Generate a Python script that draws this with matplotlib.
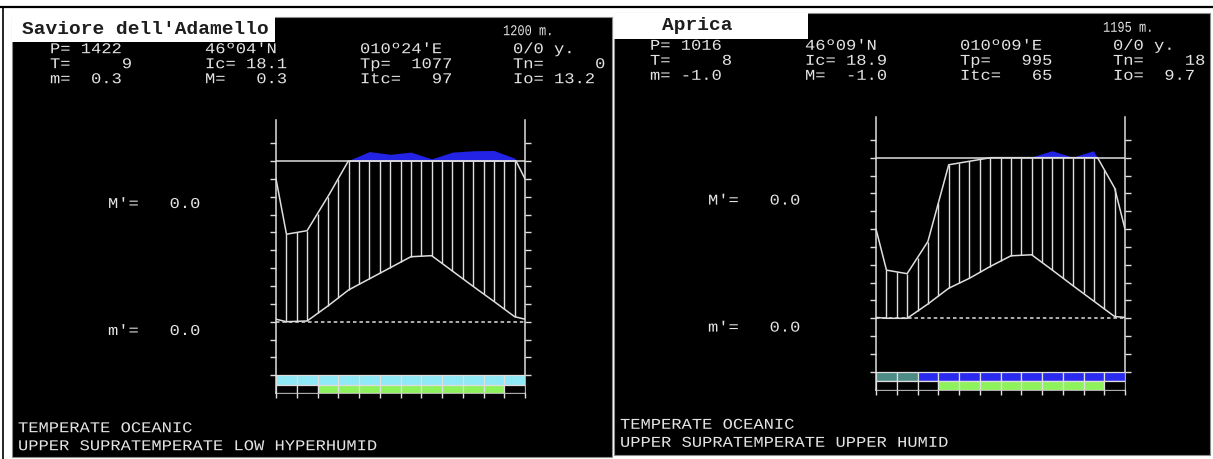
import numpy as np
import matplotlib
matplotlib.use("Agg")
import matplotlib.pyplot as plt
from matplotlib.patches import Rectangle
from matplotlib.patheffects import AbstractPathEffect
from matplotlib.transforms import Affine2D

W, H = 1213, 459

# ---- Saviore dell'Adamello -------------------------------------------------
sav_title = "Saviore dell'Adamello"
sav_elev = "1200 m."
sav_header = [["P= 1422", "46º04'N", "010º24'E", "0/0 y."],
              ["T=     9", "Ic= 18.1", "Tp=  1077", "Tn=     0"],
              ["m=  0.3", "M=   0.3", "Itc=   97", "Io= 13.2"]]
sav_temp = [0.0, 0.2, 4.4, 8.9, 12.0, 15.1, 18.2, 18.5, 14.2, 9.9, 5.7, 1.4]
sav_prec = [49, 51, 70, 95, 159, 139, 155, 106, 155, 165, 167, 111]
sav_row1 = ["cyan"] * 12
sav_row2 = ["off", "off", "on", "on", "on", "on", "on", "on", "on", "on", "on", "off"]
sav_labels = ["M'=   0.0", "m'=   0.0"]
sav_class = ["TEMPERATE OCEANIC", "UPPER SUPRATEMPERATE LOW HYPERHUMID"]

# ---- Aprica ----------------------------------------------------------------
apr_title = "Aprica"
apr_elev = "1195 m."
apr_header = [["P= 1016", "46º09'N", "010º09'E", "0/0 y."],
              ["T=     8", "Ic= 18.9", "Tp=   995", "Tn=    18"],
              ["m= -1.0", "M=  -1.0", "Itc=   65", "Io=  9.7"]]
apr_temp = [0.0, 0.0, 4.0, 8.4, 11.2, 14.5, 17.5, 17.8, 13.5, 9.1, 4.8, 0.5]
apr_prec = [27, 25, 43, 86, 88, 90, 90, 90, 137, 90, 137, 73]
apr_row1 = ["teal", "teal", "blue", "blue", "blue", "blue",
            "blue", "blue", "blue", "blue", "blue", "blue"]
apr_row2 = ["off", "off", "off", "on", "on", "on", "on", "on", "on", "on", "on", "off"]
apr_labels = ["M'=   0.0", "m'=   0.0"]
apr_class = ["TEMPERATE OCEANIC", "UPPER SUPRATEMPERATE UPPER HUMID"]

# ---- styling ---------------------------------------------------------------
LC = "#dedede"          # line colour
TC = "#e4e4e4"          # text colour
MONO = "Liberation Mono"
CAP = 45.0              # precipitation ceiling (P = 2T scale)
EXCESS = 13.0           # reduction applied above the ceiling
PPU = 3.57              # pixels per degree
YMIN, YMAX = -20.0, 56.5
row1_colors = {"cyan": "#8ee8f6", "teal": "#4d8b86", "blue": "#2b2bef"}
row2_colors = {"on": "#8ef25c", "off": "black"}
FILL = "#2323e6"


class Stretch(AbstractPathEffect):
    """Draw text glyphs scaled horizontally about the text origin."""

    def __init__(self, sx=1.0, sy=1.0):
        super().__init__()
        self.sx, self.sy = sx, sy

    def draw_path(self, renderer, gc, tpath, affine, rgbFace=None):
        renderer.draw_path(gc, tpath, Affine2D().scale(self.sx, self.sy) + affine,
                           rgbFace)


WIDE = [Stretch(1.14)]
NARROW = [Stretch(0.80)]
FS = 10.8


def scaled_prec(p):
    half = np.asarray(p, dtype=float) / 2.0
    return np.where(half > CAP, CAP + (half - CAP) / EXCESS, half)


fig = plt.figure(figsize=(W / 100, H / 100), dpi=100)
fig.patch.set_facecolor("white")
bg = fig.add_axes([0, 0, 1, 1])
bg.set_xlim(0, W)
bg.set_ylim(H, 0)
bg.axis("off")

# outer frame lines
bg.plot([0, W], [7, 7], color="black", lw=1.6)
bg.plot([3, 3], [7, H], color="black", lw=1.2)


def draw_panel(panel, box_w, title_x, chart_left, zero_px, title, elev, header,
               temp, prec, row1, row2, labels, klass):
    px, py, pw, ph = panel
    bg.add_patch(Rectangle((px, py), pw, ph, facecolor="black",
                           edgecolor="#8c8c8c", lw=0.8))
    bg.add_patch(Rectangle((px, py - 0.5), box_w, 26, facecolor="white",
                           edgecolor="none"))
    bg.text(title_x, py + 13, title, family=MONO, weight="bold",
            fontsize=14, color="#1e1e1e", ha="center", va="center")
    bg.text(chart_left + 227, zero_px - 290.5, elev, family=MONO,
            fontsize=FS, color=TC, ha="left", va="center", path_effects=NARROW)
    cols = [-226, -71, 84, 237]
    for r, row in enumerate(header):
        for c, s in enumerate(row):
            bg.text(chart_left + cols[c], zero_px - 272.5 + 15 * r, s,
                    family=MONO, fontsize=FS, color=TC,
                    ha="left", va="center", path_effects=WIDE)
    bg.text(chart_left - 168, zero_px - 117.7, labels[0], family=MONO,
            fontsize=FS, color=TC, ha="left", va="center", path_effects=WIDE)
    bg.text(chart_left - 168, zero_px + 9.3, labels[1], family=MONO,
            fontsize=FS, color=TC, ha="left", va="center", path_effects=WIDE)
    for k, s in enumerate(klass):
        bg.text(px + 6, zero_px + 106.5 + 18 * k, s, family=MONO,
                fontsize=FS, color=TC, ha="left", va="center",
                path_effects=WIDE)

    # climate diagram
    top_px = zero_px - YMAX * PPU
    bot_px = zero_px - YMIN * PPU
    ax = fig.add_axes([chart_left / W, 1 - bot_px / H, 249 / W,
                       (bot_px - top_px) / H])
    ax.patch.set_alpha(0)
    ax.set_xlim(0, 12)
    ax.set_ylim(YMIN, YMAX)

    xm = np.arange(12) + 0.5
    xs = np.concatenate([[0.0], xm, [12.0]])
    t_edge = (temp[-1] + temp[0]) / 2
    p_edge = (prec[-1] + prec[0]) / 2
    t_line = np.concatenate([[t_edge], temp, [t_edge]])
    p_line = scaled_prec(np.concatenate([[p_edge], prec, [p_edge]]))

    ax.fill_between(xs, CAP, p_line, where=p_line > CAP, interpolate=True,
                    color=FILL, lw=0, zorder=2)
    xf = np.linspace(0, 12, 2401)
    pf = np.interp(xf, xs, p_line)
    ax.plot(xf, np.minimum(pf, CAP), color=LC, lw=1.1, zorder=3)
    ax.plot(xs, t_line, color=LC, lw=1.1, zorder=3)

    xh = np.arange(1, 24) * 0.5
    lo = np.interp(xh, xs, t_line)
    hi = np.minimum(np.interp(xh, xs, p_line), CAP)
    ax.vlines(xh, lo, hi, color=LC, lw=1.0, zorder=3)

    ax.axhline(CAP, color=LC, lw=1.1, zorder=3)
    ax.axhline(0, color=LC, lw=1.1, dashes=(2.3, 1.9), zorder=3)

    for k in range(12):
        ax.add_patch(Rectangle((k, -17.6), 1, 2.6, facecolor=row1_colors[row1[k]],
                               edgecolor=LC, lw=0.9, zorder=4))
        ax.add_patch(Rectangle((k, -20.0), 1, 2.4, facecolor=row2_colors[row2[k]],
                               edgecolor=LC, lw=0.9, zorder=4))

    for side in ("left", "right", "bottom"):
        ax.spines[side].set_color(LC)
        ax.spines[side].set_linewidth(1.1)
    ax.spines["top"].set_visible(False)
    ax.set_yticks(np.arange(-15, 51, 5))
    ax.set_xticks(np.arange(13))
    ax.tick_params(axis="y", left=True, right=True, direction="out",
                   length=4.3, width=1.0, color=LC,
                   labelleft=False, labelright=False)
    ax.tick_params(axis="x", bottom=True, direction="out", length=3.6,
                   width=1.0, color=LC, labelbottom=False)


draw_panel((12, 16.5, 600, 440.5), 263, 145, 276, 321.7, sav_title, sav_elev,
           sav_header, sav_temp, sav_prec, sav_row1, sav_row2, sav_labels,
           sav_class)
draw_panel((614, 13, 596, 442), 194, 697, 876, 318.3, apr_title, apr_elev,
           apr_header, apr_temp, apr_prec, apr_row1, apr_row2, apr_labels,
           apr_class)

fig.savefig("out.png", dpi=100, facecolor="white")
